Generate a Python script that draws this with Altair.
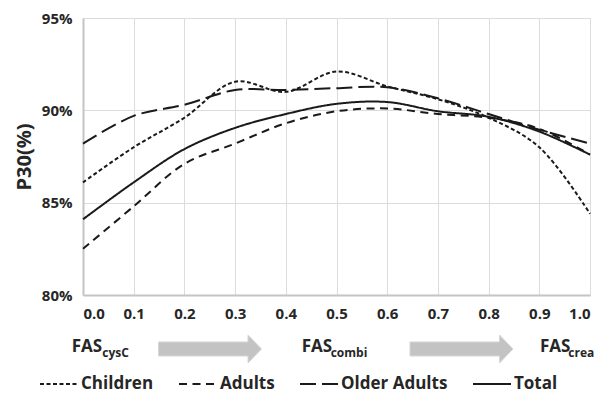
import altair as alt
import pandas as pd

x_vals = [0.0, 0.1, 0.2, 0.3, 0.4, 0.5, 0.6, 0.7, 0.8, 0.9, 1.0]
children = [86.1, 88.0, 89.6, 91.55, 91.0, 92.1, 91.3, 90.6, 89.6, 88.0, 84.4]
adults = [82.5, 84.8, 87.1, 88.2, 89.3, 89.95, 90.1, 89.8, 89.6, 89.0, 87.6]
older_adults = [88.2, 89.7, 90.3, 91.1, 91.1, 91.2, 91.25, 90.65, 89.8, 88.95, 88.2]
total = [84.1, 86.1, 87.9, 89.05, 89.8, 90.35, 90.45, 89.95, 89.65, 88.85, 87.6]

groups = ["Children", "Adults", "Older Adults", "Total"]
series = [children, adults, older_adults, total]
dashes = [[4, 2.5], [8, 5.5], [16, 6], [1, 0]]

y_ticks = [80, 85, 90, 95]
x_ticks = x_vals

ann_main_text = ["FAS", "FAS", "FAS"]
ann_sub_text = ["cysC", "combi", "crea"]

rows = []
for g, s in zip(groups, series):
    for xv, yv in zip(x_vals, s):
        rows.append({"x": xv, "y": yv, "group": g})
df = pd.DataFrame(rows)

FONT = "Open Sans"
TXT = "#262626"

lines = alt.Chart(df).mark_line(interpolate="catmull-rom", strokeWidth=2, color="#1a1a1a").encode(
    x=alt.X("x:Q", scale=alt.Scale(domain=[0, 1], nice=False),
            axis=alt.Axis(values=x_ticks, format=".1f", title=None, labelFontSize=15,
                          labelFontWeight="bold", labelFont=FONT, labelColor=TXT,
                          labelPadding=11, ticks=False, domainColor="#c4c4c4", domainWidth=2,
                          gridColor="#dcdcdc", gridWidth=1)),
    y=alt.Y("y:Q", scale=alt.Scale(domain=[80, 95], nice=False),
            axis=alt.Axis(values=y_ticks, labelExpr="datum.value + '%'", title="P30(%)",
                          titleFontSize=20, titleFont=FONT, titleFontWeight="bold",
                          titleColor=TXT, titlePadding=7,
                          labelFontSize=15, labelFontWeight="bold", labelFont=FONT,
                          labelColor=TXT, labelPadding=11, ticks=False,
                          domainColor="#c4c4c4", domainWidth=2,
                          gridColor="#dcdcdc", gridWidth=1)),
    strokeDash=alt.StrokeDash("group:N", scale=alt.Scale(domain=groups, range=dashes),
                              sort=groups,
                              legend=alt.Legend(title=None, orient="none", direction="horizontal",
                                                legendX=-44, legendY=346, padding=0,
                                                symbolType="stroke", symbolSize=1444,
                                                symbolStrokeWidth=2, symbolStrokeColor="#1a1a1a",
                                                labelFont=FONT, labelFontSize=17,
                                                labelFontWeight="bold", labelColor=TXT,
                                                labelOffset=2, columnPadding=21)),
)

# annotation labels (pixel positions relative to plot origin)
ann_main = pd.DataFrame({"px": [-11.3, 218.7, 457], "py": [333.7, 333.7, 333.7],
                         "t": ann_main_text})
ann_sub = pd.DataFrame({"px": [19.3, 247.7, 485.3], "py": [339.3, 339.3, 339.3],
                        "t": ann_sub_text})
main_txt = alt.Chart(ann_main).mark_text(align="left", baseline="alphabetic", font=FONT,
                                         fontSize=17, fontWeight="bold", color=TXT).encode(
    x=alt.X("px:Q", scale=None), y=alt.Y("py:Q", scale=None), text="t:N")
sub_txt = alt.Chart(ann_sub).mark_text(align="left", baseline="alphabetic", font=FONT,
                                       fontSize=12, fontWeight="bold", color=TXT).encode(
    x=alt.X("px:Q", scale=None), y=alt.Y("py:Q", scale=None), text="t:N")

arrow_path = "M-1,-0.136L0.738,-0.136L0.738,-0.272L1,0L0.738,0.272L0.738,0.136L-1,0.136Z"
arrows_df = pd.DataFrame({"px": [127, 378.5], "py": [331, 331]})
arrows = alt.Chart(arrows_df).mark_point(shape=arrow_path, size=10609, filled=True,
                                         fill="#c3c3c3", stroke="#d6d6d6", strokeWidth=1,
                                         opacity=1).encode(
    x=alt.X("px:Q", scale=None), y=alt.Y("py:Q", scale=None))

chart = alt.layer(lines, arrows, main_txt, sub_txt).properties(
    width=507, height=277,
    autosize=alt.AutoSizeParams(type="none"),
    padding={"left": 75, "top": 10, "right": 4, "bottom": 99},
).configure_view(stroke=None).configure(background="white")

chart.save("out.html", embed_options={"renderer": "svg", "actions": False})
